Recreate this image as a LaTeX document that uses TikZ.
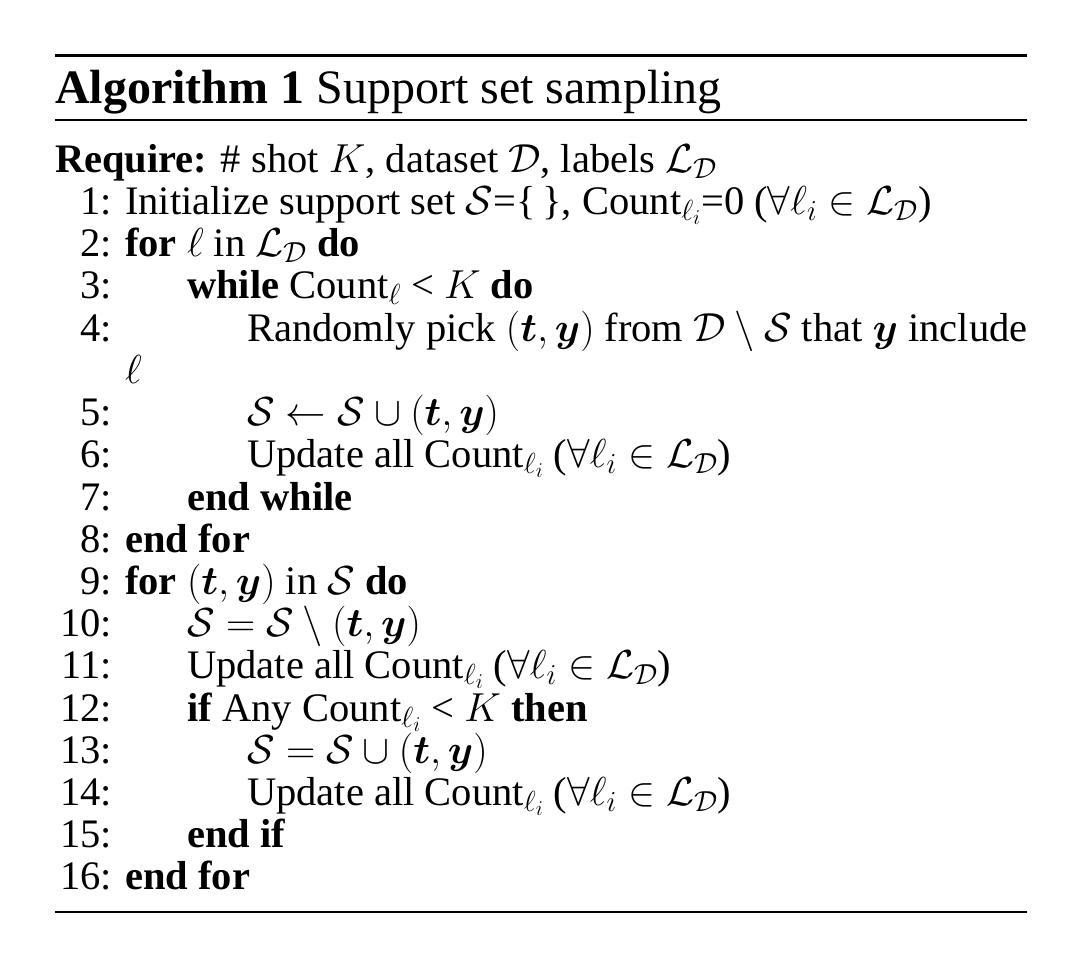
\RequirePackage{fix-cm}
\documentclass[tikz,border=0pt]{standalone}
\usepackage{amsmath,amssymb,bm}
\usepackage{fontspec}
\setmainfont{Liberation Serif}
\DeclareMathSizes{40.5}{40.5}{29}{21}
\begin{document}
\begin{tikzpicture}[x=1pt,y=-1pt,
  txt/.style={anchor=base west,inner sep=0pt,font=\fontsize{40.5}{46}\selectfont},
  num/.style={anchor=base east,inner sep=0pt,font=\fontsize{40.5}{46}\selectfont}]
\useasboundingbox (0,0) rectangle (1080,977);
\draw[line width=3pt] (55,55) -- (1027,55);
\draw[line width=1.3pt] (55,120) -- (1027,120);
\draw[line width=1.3pt] (55,912) -- (1027,912);
\node[txt,font=\fontsize{48}{56}\selectfont] (title) at (55,103) {\textbf{Algorithm 1} Support set sampling};
\node[txt] (req) at (55,172) {\textbf{Require:} \# shot $K$, dataset $\mathcal{D}$, labels $\mathcal{L}_{\mathcal{D}}$};
\foreach \n/\y in {1/214,2/256,3/298,4/341,5/425,6/467,7/510,8/552,9/594,10/636,11/678,12/721,13/763,14/805,15/847,16/889}
  \node[num] (n\n) at (112,\y) {\n:};
\node[txt] (l1) at (125,214) {Initialize support set $\mathcal{S}$=\{\,\}, Count$_{\ell_i}$=0 ($\forall \ell_i\in\mathcal{L}_{\mathcal{D}}$)};
\node[txt] (l2) at (125,256) {\textbf{for} $\ell$ in $\mathcal{L}_{\mathcal{D}}$ \textbf{do}};
\node[txt] (l3) at (187,298) {\textbf{while} Count$_\ell$ < $K$ \textbf{do}};
\node[txt] (l4) at (247,341) {Randomly pick $(\bm{t},\bm{y})$ from $\mathcal{D}\setminus\mathcal{S}$ that $\bm{y}$ include};
\node[txt] (l4b) at (125,383) {$\ell$};
\node[txt] (l5) at (247,425) {$\mathcal{S}\leftarrow\mathcal{S}\cup(\bm{t},\bm{y})$};
\node[txt] (l6) at (247,467) {Update all Count$_{\ell_i}$ ($\forall \ell_i\in\mathcal{L}_{\mathcal{D}}$)};
\node[txt] (l7) at (187,510) {\textbf{end while}};
\node[txt] (l8) at (125,552) {\textbf{end for}};
\node[txt] (l9) at (125,594) {\textbf{for} $(\bm{t},\bm{y})$ in $\mathcal{S}$ \textbf{do}};
\node[txt] (l10) at (187,636) {$\mathcal{S}=\mathcal{S}\setminus(\bm{t},\bm{y})$};
\node[txt] (l11) at (187,678) {Update all Count$_{\ell_i}$ ($\forall \ell_i\in\mathcal{L}_{\mathcal{D}}$)};
\node[txt] (l12) at (187,721) {\textbf{if} Any Count$_{\ell_i}$ < $K$ \textbf{then}};
\node[txt] (l13) at (247,763) {$\mathcal{S}=\mathcal{S}\cup(\bm{t},\bm{y})$};
\node[txt] (l14) at (247,805) {Update all Count$_{\ell_i}$ ($\forall \ell_i\in\mathcal{L}_{\mathcal{D}}$)};
\node[txt] (l15) at (187,847) {\textbf{end if}};
\node[txt] (l16) at (125,889) {\textbf{end for}};
\end{tikzpicture}
\end{document}
